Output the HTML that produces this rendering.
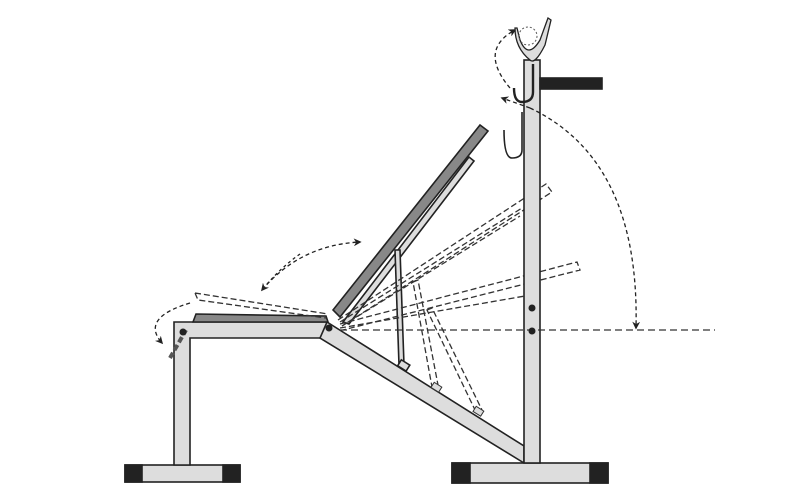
<!DOCTYPE html>
<html><head><meta charset="utf-8"><style>html,body{margin:0;padding:0;background:#fff}svg{display:block}</style></head>
<body>
<svg width="800" height="500" viewBox="0 0 800 500" xmlns="http://www.w3.org/2000/svg">
<defs>
<marker id="ah" viewBox="0 0 10 10" refX="8" refY="5" markerWidth="6" markerHeight="6" orient="auto"><path d="M0,0 L10,5 L0,10 L3,5 Z" fill="#222"/></marker>
</defs>
<g stroke="#222" stroke-width="1.6" fill="#ddd">
<rect x="125" y="465" width="115" height="17"/>
<rect x="125" y="465" width="17" height="17" fill="#222"/>
<rect x="223" y="465" width="17" height="17" fill="#222"/>
<path d="M174,465 L174,322 L327,322 L332,338 L190,338 L190,465 Z"/>
<path d="M327,322 L524,446 L524,463 L320,338 Z"/>
<path d="M193,322 L196,314 L326,316 L328,322 Z" fill="#888"/>
<path d="M343,322 L469,157 L474,161 L349,324 Z"/>
<path d="M333,310 L480,125 L488,131 L340,317 Z" fill="#888"/>
<path d="M395,250 L400,250 L404,365 L399,365 Z"/>
<rect x="399" y="362" width="10" height="7" transform="rotate(32 404 365)"/>
</g>
<g stroke="#333" stroke-width="1.3" fill="none" stroke-dasharray="6,3">
<path d="M338,320 L546,184 L552,192 L342,326"/>
<path d="M340,322 L522,208 M342,326 L520,216"/>
<path d="M340,324 L577,262 L580,270 L343,330"/>
<path d="M340,328 L525,296"/>
<path d="M413,282 L418,280 L438,385 L432,387 Z"/>
<path d="M427,310 L432,308 L482,410 L476,412 Z"/>
<path d="M195,293 L198,300 L326,318 M195,293 L328,314"/>
<path d="M170,358 L186,330" stroke-width="4" stroke="#555"/>
</g>
<rect x="432" y="384" width="9" height="6" fill="#ddd" stroke="#333" transform="rotate(32 436 387)"/>
<rect x="474" y="408" width="9" height="6" fill="#ddd" stroke="#333" transform="rotate(32 478 411)"/>
<g stroke="#222" stroke-width="1.6" fill="#ddd">
<rect x="452" y="463" width="156" height="20"/>
<rect x="452" y="463" width="18" height="20" fill="#222"/>
<rect x="590" y="463" width="18" height="20" fill="#222"/>
<rect x="524" y="60" width="16" height="403"/>
<rect x="540" y="78" width="62" height="11" fill="#222"/>
</g>
<line x1="340" y1="330" x2="715" y2="330" stroke="#333" stroke-width="1.3" stroke-dasharray="7,4"/>
<circle cx="329" cy="328" r="3.5" fill="#222"/>
<circle cx="183" cy="332" r="3.5" fill="#222"/>
<circle cx="532" cy="308" r="3.5" fill="#222"/>
<circle cx="532" cy="331" r="3.5" fill="#222"/>
<g stroke="#222" stroke-width="1.3" fill="none" stroke-dasharray="4,3" marker-end="url(#ah)">
<path d="M530,108 Q640,160 636,328"/>
<path d="M262,290 Q300,245 360,242"/>
<path d="M190,303 Q140,318 162,343"/>
<path d="M510,88 Q478,50 515,30"/>
</g>
<path d="M530,108 L502,98" stroke="#222" stroke-width="1.3" fill="none" stroke-dasharray="4,3" marker-end="url(#ah)"/>
<path d="M300,254 Q280,268 262,290" stroke="#222" stroke-width="1.3" fill="none" stroke-dasharray="3,3" marker-end="url(#ah)"/>
<g stroke="#222" stroke-width="2.4" fill="none">
<path d="M533,64 L533,92 Q533,102 522,102 Q514,102 514,88"/>
<path d="M522,112 L522,150 Q522,158 512,158 Q504,158 504,130" stroke-width="1.6"/>
</g>
<path d="M517,28 L520,40 Q528,60 540,40 L548,18 L551,20 L545,45 Q535,65 530,60 Q515,48 515,28 Z" fill="#ddd" stroke="#222" stroke-width="1.3"/>
<circle cx="528" cy="36" r="9" fill="none" stroke="#555" stroke-width="1" stroke-dasharray="2,2"/>
</svg>
</body></html>
